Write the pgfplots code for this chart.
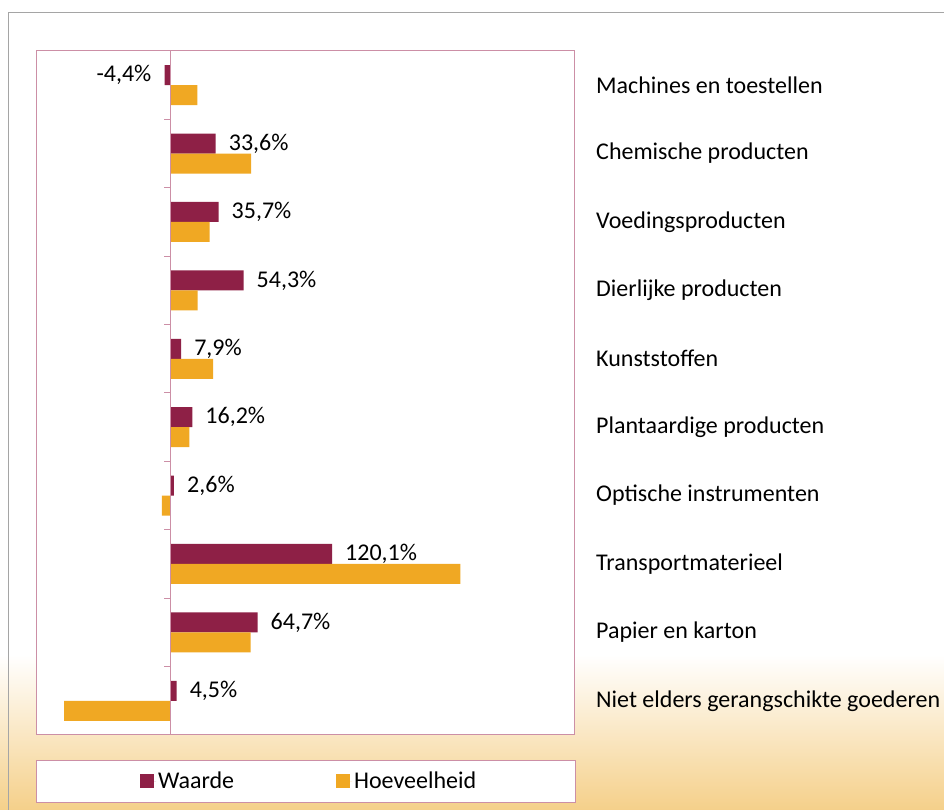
\documentclass[border=0pt]{standalone}
\usepackage{pgfplots}
\pgfplotsset{compat=1.18}
\usepackage{pgfplotstable}
\usepackage{fontspec}
\setmainfont{Carlito}
\definecolor{waarde}{RGB}{142,32,70}
\definecolor{hoev}{RGB}{240,168,35}
\definecolor{pinkbd}{RGB}{204,143,166}
\definecolor{outerbd}{RGB}{165,165,165}
\definecolor{peach}{RGB}{245,208,138}
\newcommand\fs{\fontsize{24bp}{28bp}\selectfont}
\pgfplotstableread{
y w h
9 -4.4 20.0
8 33.6 60.0
7 35.7 29.0
6 54.3 20.2
5 7.9 31.7
4 16.2 14.0
3 2.6 -6.4
2 120.1 215.5
1 64.7 59.6
0 4.5 -79.0
}\data
\begin{document}
\begin{tikzpicture}[x=1bp,y=1bp]
\useasboundingbox (0,0) rectangle (944,810);
\fill[white] (0,0) rectangle (944,810);
\shade[top color=white, bottom color=peach] (0,0) rectangle (944,155);
\draw[outerbd, line width=1.5bp] (8.5,-2) -- (8.5,797.5) -- (946,797.5);
\draw[pinkbd, fill=white, line width=1bp] (36,7) rectangle (575,49);
\begin{axis}[
  at={(36bp,75bp)}, anchor=south west,
  scale only axis, width=538bp, height=684bp,
  xmin=-100, xmax=300, ymin=-0.5, ymax=9.5,
  xbar, bar width=20bp,
  axis line style={pinkbd, line width=1bp},
  axis background/.style={fill=white},
  xtick=\empty,
  ytick={0,...,9},
  yticklabels={Niet elders gerangschikte goederen, Papier en karton, Transportmaterieel, Optische instrumenten, Plantaardige producten, Kunststoffen, Dierlijke producten, Voedingsproducten, Chemische producten, Machines en toestellen},
  yticklabel pos=right, major tick length=0,
  yticklabel style={anchor=west, inner sep=0pt, xshift=22bp, font=\fs, black},
  clip=false,
  legend columns=2,
  legend style={draw=none, fill=none, at={(axis description cs:0.193,-0.0673)}, anchor=west, font=\fs, inner sep=0pt,
    /tikz/every even column/.append style={column sep=100bp}},
  legend cell align=left,
]
\addplot[fill=waarde, draw=none, bar shift=10bp, point meta=x,
  nodes near coords={\pgfmathprintnumber[fixed, fixed zerofill, precision=1, use comma, assume math mode=true]{\pgfplotspointmeta}\%},
  nodes near coords align={horizontal},
  every node near coord/.append style={font=\fs, black, inner xsep=13bp, inner ysep=0pt},
  legend image code/.code={\fill[waarde] (0bp,-7bp) rectangle (14bp,7bp); \path (0bp,0bp) -- (16bp,0bp);}]
  table[x=w, y=y] {\data};
\addlegendentry{Waarde}
\addplot[fill=hoev, draw=none, bar shift=-10bp,
  legend image code/.code={\fill[hoev] (0bp,-7bp) rectangle (14bp,7bp); \path (0bp,0bp) -- (16bp,0bp);}]
  table[x=h, y=y] {\data};
\addlegendentry{Hoeveelheid}
\end{axis}
\draw[pinkbd, line width=1bp] (170.5,75) -- (170.5,759);
\foreach \k in {0,...,10} \draw[pinkbd, line width=1bp] (170.5,75+68.4*\k) -- ++(-7,0);
\end{tikzpicture}
\end{document}
